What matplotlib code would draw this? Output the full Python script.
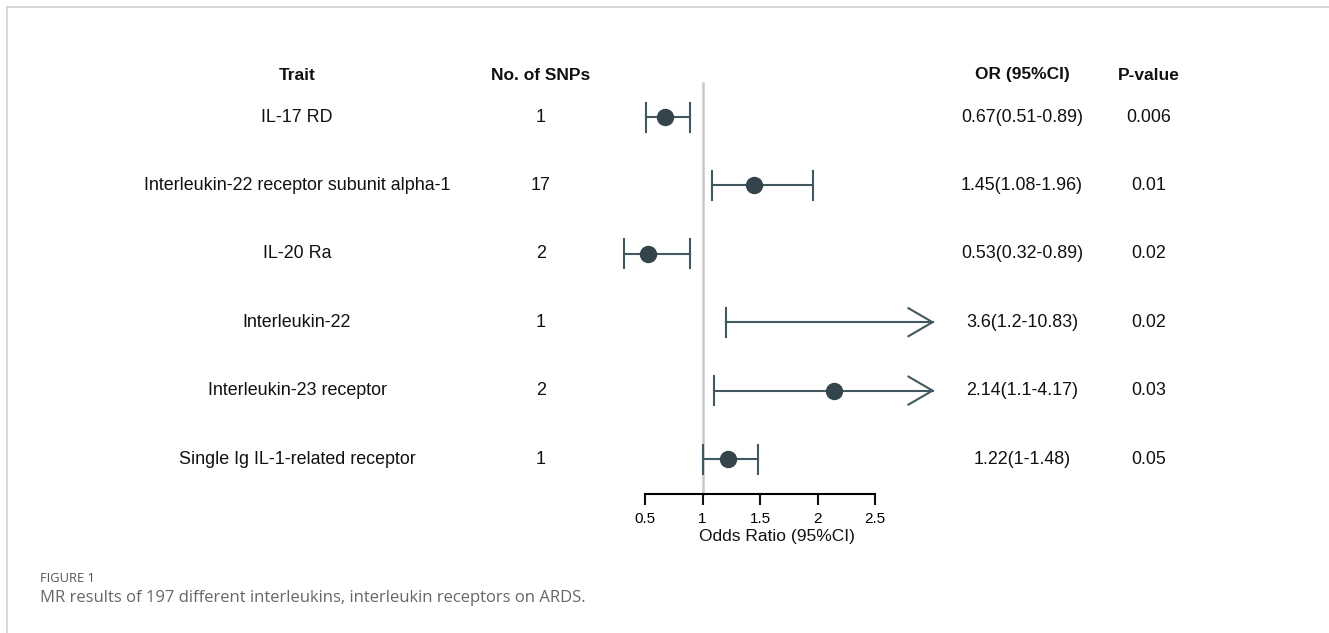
import matplotlib
matplotlib.use("Agg")
import matplotlib.pyplot as plt
from matplotlib.lines import Line2D
import matplotlib.transforms as mtransforms

traits = ["IL-17 RD", "Interleukin-22 receptor subunit alpha-1", "IL-20 Ra",
          "Interleukin-22", "Interleukin-23 receptor", "Single Ig IL-1-related receptor"]
n_snps = ["1", "17", "2", "1", "2", "1"]
or_vals = [0.67, 1.45, 0.53, 3.6, 2.14, 1.22]
ci_low = [0.51, 1.08, 0.32, 1.2, 1.1, 1.0]
ci_high = [0.89, 1.96, 0.89, 10.83, 4.17, 1.48]
or_text = ["0.67(0.51-0.89)", "1.45(1.08-1.96)", "0.53(0.32-0.89)",
           "3.6(1.2-10.83)", "2.14(1.1-4.17)", "1.22(1-1.48)"]
p_text = ["0.006", "0.01", "0.02", "0.02", "0.03", "0.05"]
ticks = [0.5, 1, 1.5, 2, 2.5]
tick_labels = ["0.5", "1", "1.5", "2", "2.5"]
clip_max = 3.0

W, H = 1329, 633
plt.rcParams['font.family'] = ['Liberation Sans', 'DejaVu Sans']
fig = plt.figure(figsize=(W / 100, H / 100), dpi=100)

# pixel geometry
ax_left_px, ax_right_px = 645, 875
ppu = (ax_right_px - ax_left_px) / (ticks[-1] - ticks[0])
row0_px, row_step = 117, 68.4
axis_y_px = 494

ax = fig.add_axes([0, 0, 1, 1])
ax.set_xlim(ticks[0] - ax_left_px / ppu, ticks[0] + (W - ax_left_px) / ppu)
ax.set_ylim((H - row0_px) / row_step, -row0_px / row_step)
ax.axis("off")

line_c = "#415861"
mark_c = "#33444b"
cap_h = 14.5 / row_step
head_len = 24 / ppu
head_h = 14 / row_step

# reference line
ax.plot([1, 1], [-0.5, (axis_y_px - row0_px) / row_step], color="#c8c8c8", lw=1.8, zorder=1)

for i in range(len(traits)):
    lo, hi, v = ci_low[i], ci_high[i], or_vals[i]
    right = min(hi, clip_max)
    ax.plot([lo, right], [i, i], color=line_c, lw=1.5, zorder=2)
    ax.plot([lo, lo], [i - cap_h, i + cap_h], color=line_c, lw=1.5, zorder=2)
    if hi > clip_max:
        ax.plot([clip_max - head_len, clip_max, clip_max - head_len],
                [i - head_h, i, i + head_h], color=line_c, lw=1.5, zorder=2)
    else:
        ax.plot([hi, hi], [i - cap_h, i + cap_h], color=line_c, lw=1.5, zorder=2)
    if v <= clip_max:
        ax.plot([v], [i], "o", color=mark_c, ms=11.5, zorder=3)

# text columns
tr = mtransforms.blended_transform_factory(fig.transFigure, ax.transData)
hdr_y = (75 - row0_px) / row_step
cols = [(297 / W, "Trait", traits), (541 / W, "No. of SNPs", n_snps),
        (1022 / W, "OR (95%CI)", or_text), (1149 / W, "P-value", p_text)]
for x, head, vals in cols:
    ax.text(x, hdr_y, head, transform=tr, ha="center", va="center",
            fontsize=12.5, fontweight="bold", color="#111111")
    for i, t in enumerate(vals):
        ax.text(x, i, t, transform=tr, ha="center", va="center",
                fontsize=12.9, color="#111111")

# x axis
xax = fig.add_axes([ax_left_px / W, (H - axis_y_px) / H, (ax_right_px - ax_left_px) / W, 0.0001])
xax.set_xlim(ticks[0], ticks[-1])
xax.set_xticks(ticks)
xax.set_xticklabels(tick_labels, fontsize=11)
xax.set_yticks([])
for s in ["top", "left", "right"]:
    xax.spines[s].set_visible(False)
xax.spines["bottom"].set_linewidth(1.5)
xax.tick_params(axis="x", direction="out", length=8, width=1.5, pad=5, color="#111111")
fig.text(777 / W, 1 - 536 / H, "Odds Ratio (95%CI)", ha="center", va="center",
         fontsize=12.5, color="#111111")

# frame lines
fig.add_artist(Line2D([7 / W, 1], [1 - 7 / H, 1 - 7 / H], color="#d0d0d0", lw=1.2))
fig.add_artist(Line2D([7 / W, 7 / W], [0, 1 - 7 / H], color="#d0d0d0", lw=1.2))

# caption
fig.text(40 / W, 1 - 578 / H, "FIGURE 1", fontsize=9.3, color="#555555",
         family=["Open Sans", "DejaVu Sans"], va="center")
fig.text(40 / W, 1 - 598 / H, "MR results of 197 different interleukins, interleukin receptors on ARDS.",
         fontsize=12, color="#666666", family=["Open Sans", "DejaVu Sans"], va="center")

fig.savefig("out.png", dpi=100)
